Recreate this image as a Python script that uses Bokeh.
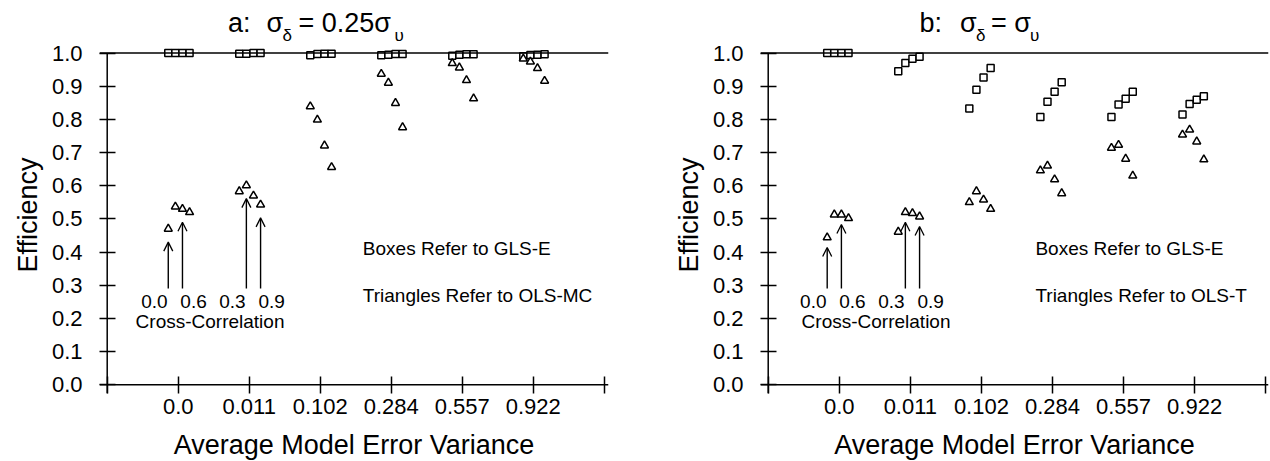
from bokeh.plotting import figure
from bokeh.layouts import row
from bokeh.models import (ColumnDataSource, Range1d, FixedTicker, PrintfTickFormatter,
                          Label, Arrow, OpenHead, Span)
from bokeh.embed import file_html
from bokeh.resources import INLINE

# ---------------- data ----------------
categories = ["0.0", "0.011", "0.102", "0.284", "0.557", "0.922"]   # average model error variance
cross_corr = [0.0, 0.3, 0.6, 0.9]
y_ticks = [0.0, 0.1, 0.2, 0.3, 0.4, 0.5, 0.6, 0.7, 0.8, 0.9, 1.0]

# panel a: sigma_delta = 0.25 sigma_upsilon
a_gls_e = [[1.000, 1.000, 1.000, 1.000],
           [0.998, 0.998, 1.000, 1.000],
           [0.993, 0.997, 0.998, 0.998],
           [0.993, 0.995, 0.997, 0.997],
           [0.992, 0.995, 0.996, 0.996],
           [0.990, 0.994, 0.995, 0.996]]
a_ols_mc = [[0.470, 0.537, 0.530, 0.520],
            [0.583, 0.601, 0.570, 0.543],
            [0.839, 0.799, 0.721, 0.656],
            [0.937, 0.910, 0.849, 0.776],
            [0.969, 0.956, 0.918, 0.863],
            [0.983, 0.974, 0.954, 0.916]]
# panel b: sigma_delta = sigma_upsilon
b_gls_e = [[1.000, 1.000, 1.000, 1.000],
           [0.945, 0.970, 0.983, 0.989],
           [0.833, 0.889, 0.926, 0.955],
           [0.807, 0.853, 0.883, 0.912],
           [0.807, 0.845, 0.862, 0.883],
           [0.815, 0.846, 0.859, 0.870]]
b_ols_t = [[0.444, 0.513, 0.513, 0.502],
           [0.461, 0.520, 0.517, 0.507],
           [0.550, 0.583, 0.558, 0.530],
           [0.646, 0.660, 0.619, 0.577],
           [0.714, 0.723, 0.681, 0.630],
           [0.754, 0.769, 0.733, 0.679]]

# arrows: (group index, cross-correlation index, label, alignment)
arrow_specs = [(0, 0, "0.0", "right"), (0, 2, "0.6", "left"),
               (1, 1, "0.3", "right"), (1, 3, "0.9", "left")]

FONT = "Liberation Sans"
PX_PER_Y = 331.8
Y0 = -0.0262
Y1 = 1.0 + 46.5 / PX_PER_Y
X0 = -0.1085
FRAME_H = 387
ANN = "19px"


def make_panel(gls, ols, offsets, title_pieces, title_x0, box_text, tri_text,
               text_x, cc_x, frame_w, x_end, mb_right, tip_gap):
    p = figure(frame_width=frame_w, frame_height=FRAME_H,
               x_range=Range1d(X0, x_end), y_range=Range1d(Y0, Y1),
               output_backend="svg", toolbar_location=None,
               min_border_left=99, min_border_right=mb_right,
               min_border_top=6, min_border_bottom=68)
    p.grid.visible = False
    p.outline_line_color = None
    ppu = frame_w / (x_end - X0)

    # x axis
    xa = p.xaxis[0]
    xa.ticker = FixedTicker(ticks=list(range(len(categories) + 2)))
    ov = {0: "", len(categories) + 1: ""}
    for i, c in enumerate(categories):
        ov[i + 1] = c
    xa.major_label_overrides = ov
    xa.axis_line_color = None
    xa.major_tick_in = 17
    xa.major_tick_out = 0
    xa.major_tick_line_width = 1.5
    xa.major_tick_line_color = "black"
    xa.minor_tick_line_color = None
    xa.major_label_standoff = 5
    xa.major_label_text_font = FONT
    xa.major_label_text_font_size = "22px"
    xa.major_label_text_color = "black"
    xa.axis_label = "Average Model Error Variance"
    xa.axis_label_text_font = FONT
    xa.axis_label_text_font_size = "27px"
    xa.axis_label_text_font_style = "normal"
    xa.axis_label_text_color = "black"
    xa.axis_label_standoff = 13

    # y axis
    ya = p.yaxis[0]
    ya.ticker = FixedTicker(ticks=y_ticks)
    ya.formatter = PrintfTickFormatter(format="%.1f")
    ya.axis_line_color = None
    ya.major_tick_in = 16
    ya.major_tick_out = 0
    ya.major_tick_line_width = 1.5
    ya.major_tick_line_color = "black"
    ya.minor_tick_line_color = None
    ya.major_label_standoff = 17
    ya.major_label_text_font = FONT
    ya.major_label_text_font_size = "22px"
    ya.major_label_text_color = "black"
    ya.axis_label = "Efficiency" + "\u00a0" * 4
    ya.axis_label_text_font = FONT
    ya.axis_label_text_font_size = "27px"
    ya.axis_label_text_font_style = "normal"
    ya.axis_label_text_color = "black"
    ya.axis_label_standoff = 6

    p.add_layout(Span(location=0, dimension="width", line_color="black", line_width=1.5))
    p.add_layout(Span(location=1.0, dimension="width", line_color="black", line_width=1.5))
    p.segment(x0=[0], y0=[Y0], x1=[0], y1=[1.0], line_color="black", line_width=1.5)

    # markers
    xs, ys_g, ys_o = [], [], []
    for gi in range(len(categories)):
        for ci in range(len(cross_corr)):
            xs.append(gi + 1 + offsets[ci])
            ys_g.append(gls[gi][ci])
            ys_o.append(ols[gi][ci])
    src = ColumnDataSource(dict(x=xs, g=ys_g, o=ys_o))
    p.scatter("x", "g", source=src, marker="square", size=7, line_color="black",
              line_width=1.5, fill_color="white")
    p.scatter("x", "o", source=src, marker="triangle", size=8, line_color="black",
              line_width=1.5, fill_color="white")

    # arrows and their labels
    for gi, ci, lab, al in arrow_specs:
        ax = gi + 1 + offsets[ci]
        p.add_layout(Arrow(end=OpenHead(size=9, line_width=1.3, line_color="black"),
                           x_start=ax, y_start=0.29, x_end=ax, y_end=ols[gi][ci] - tip_gap,
                           line_width=1.4, line_color="black"))
        lx = ax - 0.01 if al == "right" else ax - 0.03
        p.add_layout(Label(x=lx, y=0.23, text=lab, text_align=al, text_font=FONT,
                           text_font_size=ANN, text_color="black"))
    p.add_layout(Label(x=cc_x, y=0.159, text="Cross-Correlation", text_font=FONT,
                       text_font_size=ANN, text_color="black"))
    p.add_layout(Label(x=text_x, y=0.38, text=box_text, text_font=FONT,
                       text_font_size=ANN, text_color="black"))
    p.add_layout(Label(x=text_x, y=0.237, text=tri_text, text_font=FONT,
                       text_font_size=ANN, text_color="black"))

    # title pieces (with subscripts)
    for txt, dx, sub in title_pieces:
        p.add_layout(Label(x=title_x0 + dx / ppu, y=1.0256 if sub else 1.0467, text=txt,
                           text_font=FONT, text_font_size="17px" if sub else "27px",
                           text_color="black"))
    return p


pa = make_panel(a_gls_e, a_ols_mc, [-0.14, -0.04, 0.06, 0.16],
                [("a:", 0, False), ("σ", 38.5, False), ("δ", 54.5, True),
                 ("= 0.25σ", 70.5, False), ("υ", 166.5, True)],
                1.70, "Boxes Refer to GLS-E", "Triangles Refer to OLS-MC",
                3.6, 0.40, 509, 7.06, 53, 0.04)
pb = make_panel(b_gls_e, b_ols_t, [-0.17, -0.07, 0.03, 0.13],
                [("b:", 0, False), ("σ", 40.3, False), ("δ", 56.3, True),
                 ("= σ", 71.3, False), ("υ", 110.5, True)],
                2.13, "Boxes Refer to GLS-E", "Triangles Refer to OLS-T",
                3.76, 0.47, 508, 7.04, 2, 0.03)

layout = row(pa, pb)
open("out.html", "w").write(file_html(layout, INLINE))
